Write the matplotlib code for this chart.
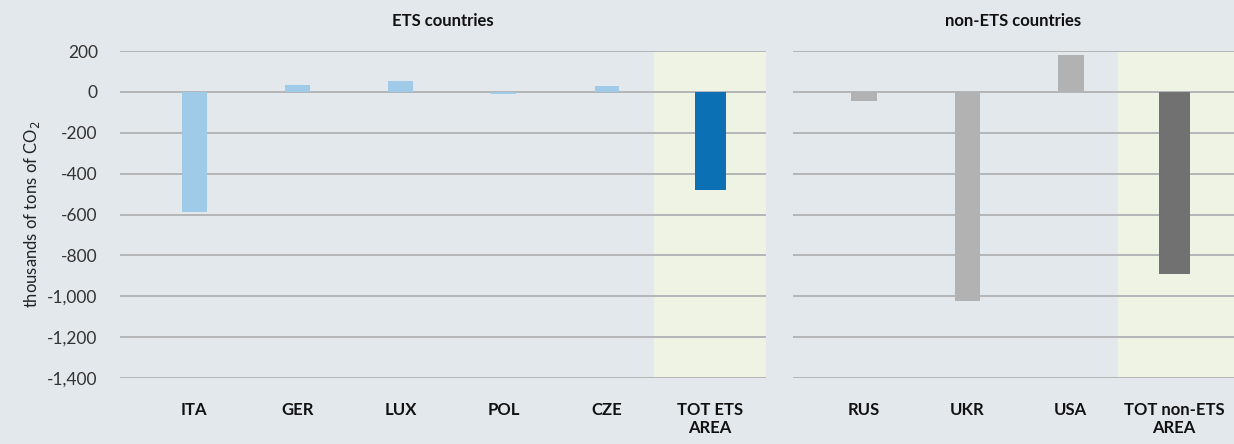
import numpy as np
import matplotlib.pyplot as plt

plt.rcParams['font.family'] = ['Lato', 'DejaVu Sans']

# ETS countries (thousands of tons of CO2)
ets_labels = ['ITA', 'GER', 'LUX', 'POL', 'CZE', 'TOT ETS\nAREA']
ets_values = [-590, 35, 55, -10, 30, -480]
# non-ETS countries
non_labels = ['RUS', 'UKR', 'USA', 'TOT non-ETS\nAREA']
non_values = [-45, -1025, 180, -890]

bg = '#e3e8ec'
hilite = '#eff3e3'
grid_c = '#b3b5b7'

fig = plt.figure(figsize=(12.34, 4.44), dpi=100, facecolor=bg)
ax1 = fig.add_axes([0.0972, 0.1486, 0.5235, 0.7365])
ax2 = fig.add_axes([0.6426, 0.1486, 0.3574, 0.7365])


def style(ax, labels, xlim):
    ax.set_facecolor(bg)
    ax.set_xlim(*xlim)
    ax.set_ylim(-1400, 200)
    ax.set_yticks(np.arange(-1400, 201, 200))
    ax.yaxis.grid(True, color=grid_c, linewidth=1.4)
    ax.set_axisbelow(True)
    for s in ax.spines.values():
        s.set_visible(False)
    ax.set_xticks(np.arange(len(labels)))
    ax.set_xticklabels(labels, fontweight='bold', fontsize=12, linespacing=1.15,
                       va='top', color='#111111')
    ax.tick_params(axis='both', length=0)
    ax.tick_params(axis='x', pad=17)


# left panel
x1 = np.arange(len(ets_labels))
style(ax1, ets_labels, (-0.72, 5.54))
ax1.axvspan(4.456, 5.54, color=hilite, zorder=0.5)
ax1.bar(x1[:-1], ets_values[:-1], width=0.24, color='#9fcbe9', zorder=2)
ax1.bar(x1[-1], ets_values[-1], width=0.3, color='#0b71b4', zorder=2)
ax1.set_yticklabels([f'{v:,}' for v in np.arange(-1400, 201, 200)],
                    fontsize=12.5, color='#333333')
ax1.tick_params(axis='y', pad=16)
ax1.set_ylabel('thousands of tons of CO$_2$', fontsize=12, color='#222222', labelpad=4)
ax1.set_title('ETS countries', fontweight='bold', fontsize=12, pad=18, color='#111111')

# right panel
x2 = np.arange(len(non_labels))
style(ax2, non_labels, (-0.69, 3.58))
ax2.axvspan(2.46, 3.58, color=hilite, zorder=0.5)
ax2.bar(x2[:-1], non_values[:-1], width=0.25, color='#b2b2b2', zorder=2)
ax2.bar(x2[-1], non_values[-1], width=0.3, color='#717171', zorder=2)
ax2.set_yticklabels([])
ax2.set_title('non-ETS countries', fontweight='bold', fontsize=12, pad=18, color='#111111')

fig.savefig('out.png', dpi=100, facecolor=bg)
